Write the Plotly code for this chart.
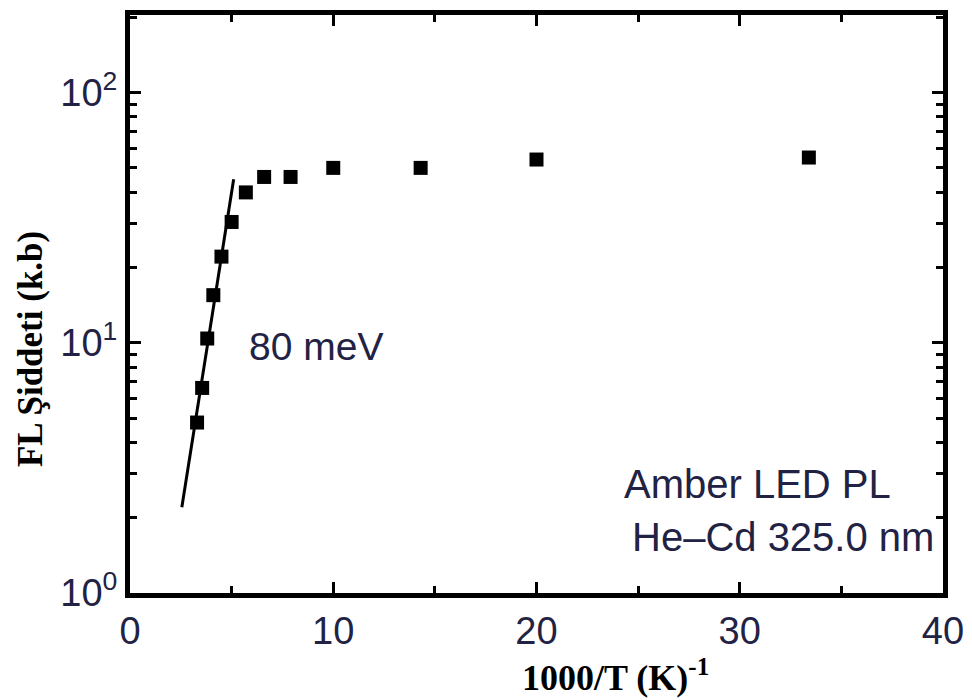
import plotly.graph_objects as go
import numpy as np

# Data
inv_T = [3.3, 3.55, 3.8, 4.1, 4.5, 5.0, 5.7, 6.6, 7.9, 10.0, 14.3, 20.0, 33.4]
pl_int = [4.8, 6.6, 10.4, 15.5, 22.1, 30.4, 39.9, 46.0, 46.0, 50.0, 50.0, 54.0, 55.0]

fit_x = [2.55, 5.1]
fit_y = [2.2, 45.0]

x_ticks = [0, 10, 20, 30, 40]
x_minor = [5, 15, 25, 35]
y_ticks = [1, 10, 100]
y_ticklabels = ["10<sup>0</sup>", "10<sup>1</sup>", "10<sup>2</sup>"]
y_minor = [2, 3, 4, 5, 6, 7, 8, 9, 20, 30, 40, 50, 60, 70, 80, 90, 200]

tick_color = "#222244"
sans = "Liberation Sans, Arial, sans-serif"
serif = "Liberation Serif, Times New Roman, serif"

fig = go.Figure()
fig.add_trace(go.Scatter(x=fit_x, y=fit_y, mode="lines",
                         line=dict(color="black", width=3), showlegend=False))
fig.add_trace(go.Scatter(x=inv_T, y=pl_int, mode="markers",
                         marker=dict(symbol="square", size=14, color="black"),
                         showlegend=False))

fig.add_annotation(x=5.75, y=np.log10(9.7), text="80 meV", showarrow=False,
                   xanchor="left", yanchor="middle",
                   font=dict(family=sans, size=39, color=tick_color))
fig.add_annotation(x=24.2, y=0.435, text="Amber LED PL", showarrow=False,
                   xanchor="left", yanchor="middle",
                   font=dict(family=sans, size=40, color=tick_color))
fig.add_annotation(x=24.6, y=0.225, text="He–Cd 325.0 nm", showarrow=False,
                   xanchor="left", yanchor="middle",
                   font=dict(family=sans, size=40, color=tick_color))

# axis titles (offset from the plot centre, as in the reference)
fig.add_annotation(xref="paper", yref="paper", x=0.597, y=-0.142,
                   text="<b>1000/T (K)<sup>-1</sup></b>", showarrow=False,
                   xanchor="center", yanchor="middle",
                   font=dict(family=serif, size=36, color="black"))
fig.add_annotation(xref="paper", yref="paper", x=-0.123, y=0.422,
                   text="<b>FL Şiddeti (k.b)</b>", showarrow=False, textangle=-90,
                   xanchor="center", yanchor="middle",
                   font=dict(family=serif, size=35, color="black"))

fig.update_xaxes(range=[0, 40], tickvals=x_ticks, ticks="inside", ticklen=11,
                 tickwidth=3, tickcolor="black",
                 minor=dict(tickvals=x_minor, ticks="inside", ticklen=7,
                            tickwidth=3, tickcolor="black"),
                 showline=True, linewidth=5, linecolor="black", mirror="allticks",
                 showgrid=False, zeroline=False,
                 tickfont=dict(family=sans, size=38, color=tick_color))
fig.update_yaxes(type="log", range=[0, 2.31], tickvals=y_ticks,
                 ticktext=y_ticklabels, ticks="inside", ticklen=11,
                 tickwidth=3, tickcolor="black",
                 minor=dict(tickvals=y_minor, ticks="inside", ticklen=7,
                            tickwidth=3, tickcolor="black"),
                 showline=True, linewidth=5, linecolor="black", mirror="allticks",
                 showgrid=False, zeroline=False,
                 tickfont=dict(family=sans, size=38, color=tick_color))

fig.update_layout(width=964, height=692, margin=dict(l=122, r=29, t=2, b=107),
                  plot_bgcolor="white", paper_bgcolor="white")

fig.write_html("out.html")
